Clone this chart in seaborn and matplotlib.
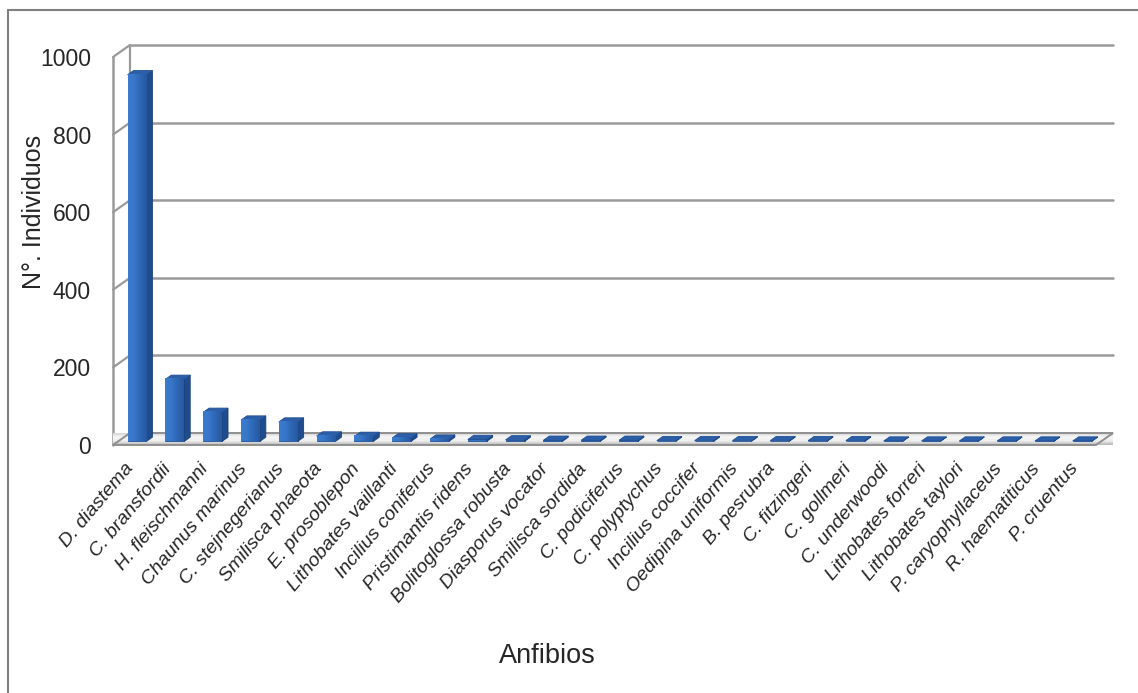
import numpy as np
import matplotlib
matplotlib.use("Agg")
import matplotlib.pyplot as plt
import matplotlib.transforms as mtransforms
from matplotlib.colors import LinearSegmentedColormap
from matplotlib.lines import Line2D
from matplotlib.patches import Polygon
import seaborn as sns

# ---- data -----------------------------------------------------------------
species = [
    "D. diastema", "C. bransfordii", "H. fleischmanni", "Chaunus marinus",
    "C. stejnegerianus", "Smilisca phaeota", "E. prosoblepon",
    "Lithobates vaillanti", "Incilius coniferus", "Pristimantis ridens",
    "Bolitoglossa robusta", "Diasporus vocator", "Smilisca sordida",
    "C. podiciferus", "C. polyptychus", "Incilius coccifer",
    "Oedipina uniformis", "B. pesrubra", "C. fitzingeri", "C. gollmeri",
    "C. underwoodi", "Lithobates forreri", "Lithobates taylori",
    "P. caryophyllaceus", "R. haematiticus", "P. cruentus",
]
counts = [945, 160, 75, 55, 50, 14, 13, 9, 6, 5, 4, 3, 3, 3, 2, 2,
          2, 2, 2, 2, 1, 1, 1, 1, 1, 1]
y_ticks = [0, 200, 400, 600, 800, 1000]

# ---- style ----------------------------------------------------------------
sns.set_style("white")
plt.rcParams["font.family"] = ["Liberation Sans", "DejaVu Sans"]

W, H = 1138, 693
fig = plt.figure(figsize=(W / 100, H / 100), dpi=100)
fig.patch.set_facecolor("white")

# front plane of the 3-D box in pixels
x_left, x_right, y_zero, y_top = 113, 1096, 445, 57
ax = fig.add_axes([x_left / W, (H - y_zero) / H,
                   (x_right - x_left) / W, (y_zero - y_top) / H])

sns.barplot(x=species, y=counts, color="#3372c2", saturation=1,
            width=0.5, ax=ax, zorder=5)

n = len(species)
ax.set_xlim(-0.5, n - 0.5)
ax.set_ylim(0, 1000)
for s in ax.spines.values():
    s.set_visible(False)

# pixel -> data conversions for the depth direction
px_x = (x_right - x_left) / n          # pixels per category
px_y = (y_zero - y_top) / 1000.0       # pixels per unit
DX = 17 / px_x
DY = 12 / px_y

grid_c = "#9a9a9a"
x0w, x1w = -0.5, n - 0.5

# back-wall gridlines and side-wall diagonals
for v in y_ticks:
    if v > 0:
        ax.add_line(Line2D([x0w + DX, x1w + DX], [v + DY, v + DY],
                           color=grid_c, lw=1.8, clip_on=False, zorder=1))
    ax.add_line(Line2D([x0w, x0w + DX], [v, v + DY], color=grid_c, lw=1.6,
                       clip_on=False, zorder=2))
ax.add_line(Line2D([x0w, x0w], [0, 1000], color=grid_c, lw=1.8,
                   clip_on=False, zorder=2))
ax.add_line(Line2D([x0w + DX, x0w + DX], [DY, 1000 + DY], color=grid_c,
                   lw=1.6, clip_on=False, zorder=1))

# floor with a soft grey gradient
floor = Polygon([(x0w, 0), (x1w, 0), (x1w + DX, DY), (x0w + DX, DY)],
                closed=True, facecolor="none", edgecolor="#8f8f8f", lw=1.4,
                clip_on=False, zorder=3)
ax.add_patch(floor)
floor_cmap = LinearSegmentedColormap.from_list(
    "floor", ["#b5b5b5", "#ededed", "#f7f7f7", "#d4d4d4"])
fimg = ax.imshow(np.linspace(0, 1, 64).reshape(-1, 1), cmap=floor_cmap,
                 extent=(x0w, x1w + DX, 0, DY), origin="lower",
                 aspect="auto", zorder=2.5, clip_on=False)
fimg.set_clip_path(floor)

# turn each seaborn bar into a 3-D column
F = 0.30   # depth of the front face
B = 0.65   # depth of the back face
face_cmap = LinearSegmentedColormap.from_list(
    "face", ["#3a7bcf", "#3876c8", "#2e66b4", "#2759a0"])
for p in list(ax.patches):
    if p is floor:
        continue
    bx, bw, bh = p.get_x(), p.get_width(), p.get_height()
    fx, fy = F * DX, F * DY
    bxo, byo = B * DX, B * DY
    p.set_xy((bx + fx, fy))
    p.set_edgecolor("#1f4f95")
    p.set_linewidth(0.6)
    x1 = bx + bw
    side = Polygon([(x1 + fx, fy), (x1 + bxo, byo), (x1 + bxo, bh + byo),
                    (x1 + fx, bh + fy)], closed=True, facecolor="#1f4c8c",
                   edgecolor="#1a4079", lw=0.6, zorder=5, clip_on=False)
    top = Polygon([(bx + fx, bh + fy), (x1 + fx, bh + fy),
                   (x1 + bxo, bh + byo), (bx + bxo, bh + byo)], closed=True,
                  facecolor="#2d5fa8", edgecolor="#1f4f95", lw=0.6,
                  zorder=5, clip_on=False)
    ax.add_patch(side)
    ax.add_patch(top)
    if bh * px_y > 2:
        img = ax.imshow(np.linspace(0, 1, 32).reshape(1, -1), cmap=face_cmap,
                        extent=(bx + fx, x1 + fx, fy, bh + fy),
                        aspect="auto", zorder=5.2, clip_on=False)
        img.set_clip_path(p)

ax.set_xlim(-0.5, n - 0.5)
ax.set_ylim(0, 1000)

# y axis
ax.set_yticks(y_ticks)
ax.set_yticklabels([str(v) for v in y_ticks])
ax.tick_params(axis="y", length=4.3, width=1.4, color=grid_c, pad=11.5,
               labelsize=16.5)

# x axis: ticks at category boundaries, labels at centres
ax.set_xticks(range(n))
ax.set_xticklabels(species, rotation=50, ha="right", va="top",
                   rotation_mode="anchor", fontstyle="italic", fontsize=14)
ax.set_xticks(np.arange(-0.5, n, 1.0), minor=True)
ax.tick_params(axis="x", which="major", length=0, pad=11)
ax.tick_params(axis="x", which="minor", length=4.3, width=1.2, color=grid_c)
shift = mtransforms.ScaledTranslation(-6 / 72, 0, fig.dpi_scale_trans)
for lbl in ax.get_xticklabels():
    lbl.set_transform(lbl.get_transform() + shift)

ax.set_xlabel("")
ax.set_ylabel("")
fig.text(34 / W, 1 - 212 / H, "N°. Individuos", rotation=90, ha="center",
         va="center", fontsize=18)
fig.text(547 / W, 1 - 656 / H, "Anfibios", ha="center", va="center",
         fontsize=19.5)

# chart frame
fig.add_artist(Line2D([8 / W, 8 / W], [0, 1 - 10 / H], color="#808080",
                      lw=1.5, transform=fig.transFigure))
fig.add_artist(Line2D([8 / W, 1], [1 - 10 / H, 1 - 10 / H], color="#808080",
                      lw=1.5, transform=fig.transFigure))

fig.savefig("out.png", dpi=100, facecolor="white")
